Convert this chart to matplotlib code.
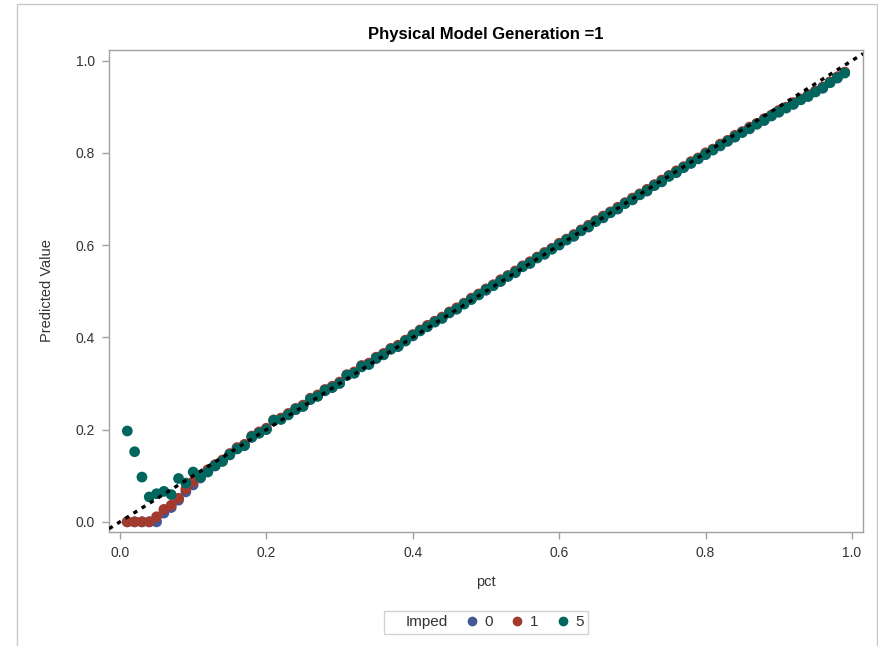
import matplotlib.pyplot as plt
from matplotlib.lines import Line2D
from matplotlib.patches import Rectangle

plt.rcParams['font.family'] = ['Liberation Sans', 'DejaVu Sans']

# x: percentile grid 0.01 .. 0.99
pct = [0.01, 0.02, 0.03, 0.04, 0.05, 0.06, 0.07, 0.08, 0.09, 0.10,
       0.11, 0.12, 0.13, 0.14, 0.15, 0.16, 0.17, 0.18, 0.19, 0.20,
       0.21, 0.22, 0.23, 0.24, 0.25, 0.26, 0.27, 0.28, 0.29, 0.30,
       0.31, 0.32, 0.33, 0.34, 0.35, 0.36, 0.37, 0.38, 0.39, 0.40,
       0.41, 0.42, 0.43, 0.44, 0.45, 0.46, 0.47, 0.48, 0.49, 0.50,
       0.51, 0.52, 0.53, 0.54, 0.55, 0.56, 0.57, 0.58, 0.59, 0.60,
       0.61, 0.62, 0.63, 0.64, 0.65, 0.66, 0.67, 0.68, 0.69, 0.70,
       0.71, 0.72, 0.73, 0.74, 0.75, 0.76, 0.77, 0.78, 0.79, 0.80,
       0.81, 0.82, 0.83, 0.84, 0.85, 0.86, 0.87, 0.88, 0.89, 0.90,
       0.91, 0.92, 0.93, 0.94, 0.95, 0.96, 0.97, 0.98, 0.99]

# predicted values per Imped level
imped0 = [0.000, 0.000, 0.000, 0.000, 0.000, 0.019, 0.031, 0.047, 0.065, 0.080,
          0.095, 0.110, 0.121, 0.132, 0.145, 0.159, 0.166, 0.183, 0.193, 0.201,
          0.219, 0.223, 0.233, 0.243, 0.251, 0.265, 0.273, 0.284, 0.292, 0.301,
          0.317, 0.323, 0.336, 0.342, 0.354, 0.363, 0.375, 0.381, 0.393, 0.403,
          0.415, 0.424, 0.434, 0.442, 0.454, 0.462, 0.473, 0.483, 0.493, 0.502,
          0.513, 0.521, 0.533, 0.540, 0.554, 0.560, 0.573, 0.580, 0.592, 0.600,
          0.612, 0.619, 0.632, 0.639, 0.652, 0.659, 0.671, 0.678, 0.691, 0.698,
          0.710, 0.717, 0.730, 0.737, 0.750, 0.757, 0.769, 0.777, 0.788, 0.796,
          0.807, 0.815, 0.826, 0.834, 0.845, 0.852, 0.863, 0.870, 0.881, 0.888,
          0.898, 0.905, 0.916, 0.922, 0.933, 0.940, 0.953, 0.962, 0.974]

imped1 = [0.000, 0.000, 0.000, 0.000, 0.011, 0.027, 0.036, 0.051, 0.071, 0.087,
          0.100, 0.113, 0.124, 0.134, 0.148, 0.161, 0.168, 0.186, 0.195, 0.203,
          0.221, 0.225, 0.235, 0.246, 0.253, 0.268, 0.275, 0.287, 0.294, 0.303,
          0.319, 0.325, 0.339, 0.344, 0.357, 0.365, 0.376, 0.383, 0.394, 0.406,
          0.416, 0.426, 0.435, 0.444, 0.455, 0.464, 0.474, 0.485, 0.494, 0.505,
          0.514, 0.525, 0.534, 0.544, 0.555, 0.564, 0.574, 0.584, 0.593, 0.604,
          0.613, 0.623, 0.633, 0.643, 0.653, 0.663, 0.672, 0.682, 0.692, 0.702,
          0.711, 0.721, 0.731, 0.741, 0.751, 0.761, 0.770, 0.781, 0.789, 0.800,
          0.808, 0.819, 0.827, 0.838, 0.846, 0.856, 0.864, 0.874, 0.882, 0.892,
          0.899, 0.909, 0.917, 0.926, 0.934, 0.943, 0.954, 0.965, 0.975]

imped5 = [0.197, 0.152, 0.097, 0.054, 0.061, 0.066, 0.059, 0.094, 0.084, 0.108,
          0.097, 0.108, 0.122, 0.131, 0.146, 0.158, 0.165, 0.184, 0.192, 0.200,
          0.220, 0.222, 0.232, 0.244, 0.250, 0.266, 0.272, 0.285, 0.291, 0.300,
          0.318, 0.322, 0.337, 0.341, 0.355, 0.362, 0.374, 0.380, 0.392, 0.404,
          0.414, 0.423, 0.433, 0.441, 0.453, 0.461, 0.472, 0.482, 0.492, 0.503,
          0.512, 0.522, 0.532, 0.541, 0.553, 0.561, 0.572, 0.581, 0.591, 0.601,
          0.611, 0.620, 0.631, 0.640, 0.651, 0.660, 0.670, 0.679, 0.690, 0.699,
          0.709, 0.718, 0.729, 0.738, 0.749, 0.758, 0.768, 0.778, 0.787, 0.797,
          0.806, 0.816, 0.825, 0.835, 0.844, 0.853, 0.862, 0.871, 0.880, 0.889,
          0.897, 0.906, 0.915, 0.923, 0.932, 0.941, 0.952, 0.963, 0.973]

levels = ['0', '1', '5']
colors = ['#445694', '#A23A2E', '#01665E']
series = [imped0, imped1, imped5]

fig = plt.figure(figsize=(8.79, 6.46), dpi=100)
ax = fig.add_axes([0.124, 0.1765, 0.8578, 0.7461])

# light outer frame like the SAS graph border
fig.patches.append(Rectangle((17 / 879, -0.01), 860 / 879, 1.01 - 4 / 646,
                             transform=fig.transFigure, fill=False,
                             edgecolor='#c8c8c8', linewidth=1.0))

for vals, col in zip(series, colors):
    ax.scatter(pct, vals, s=60, color=col, edgecolors='none', zorder=2)

ax.axline((0, 0), slope=1, color='black', linewidth=2.4,
          linestyle=(0, (1.3, 1.6)), zorder=3)

ax.set_xlim(-0.015, 1.015)
ax.set_ylim(-0.022, 1.023)
ticks = [0.0, 0.2, 0.4, 0.6, 0.8, 1.0]
ax.set_xticks(ticks)
ax.set_yticks(ticks)
ax.set_xticklabels(['0.0', '0.2', '0.4', '0.6', '0.8', '1.0'])
ax.set_yticklabels(['0.0', '0.2', '0.4', '0.6', '0.8', '1.0'])

for sp in ax.spines.values():
    sp.set_color('#a0a0a0')
    sp.set_linewidth(1.0)
ax.tick_params(colors='#a0a0a0', labelcolor='#333333', labelsize=10,
               length=5, width=1.0, pad=5)

ax.set_xlabel('pct', fontsize=10.5, color='#333333', labelpad=11)
ax.set_ylabel('Predicted Value', fontsize=10.5, color='#333333', labelpad=16)
ax.set_title('Physical Model Generation =1', fontsize=12, fontweight='bold',
             color='black', pad=13, y=0.985)

handles = [Line2D([], [], linestyle='none', marker='')]
labels = ['Imped']
for lv, col in zip(levels, colors):
    handles.append(Line2D([], [], linestyle='none', marker='o', markersize=6,
                          color=col))
    labels.append(lv)
leg = fig.legend(handles, labels, loc='center', ncol=4,
                 bbox_to_anchor=(0.553, 0.037), frameon=True, fancybox=False,
                 fontsize=11, handlelength=0.6, handletextpad=0.5,
                 columnspacing=1.3, borderpad=0.3, borderaxespad=0)
leg.get_frame().set_edgecolor('#c8c8c8')
leg.get_frame().set_linewidth(1.0)
for t in leg.get_texts():
    t.set_color('#333333')

fig.savefig('out.png', dpi=100)
